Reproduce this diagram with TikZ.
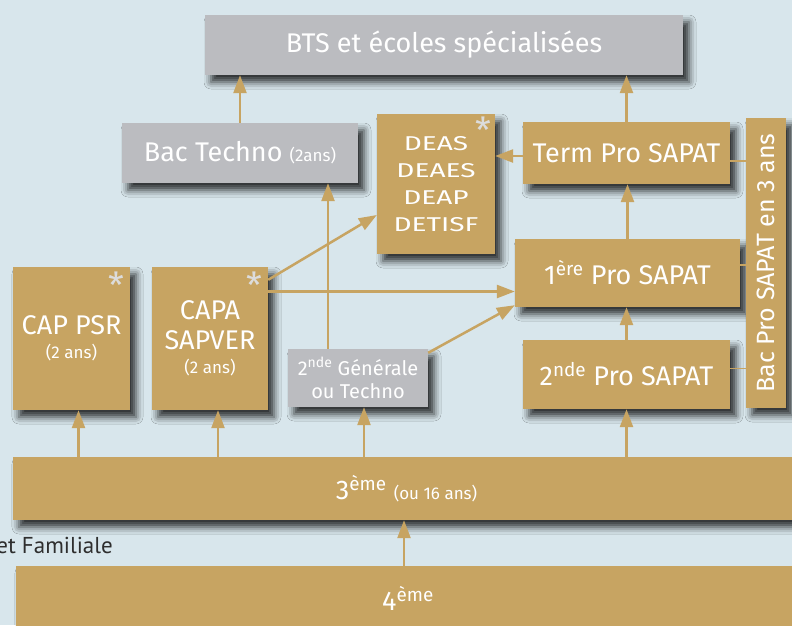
\documentclass[tikz,border=0pt]{standalone}
\usepackage{fontspec}
\usepackage{graphicx}
\setmainfont{Fira Sans}
\newfontfamily\notefont{PT Sans}
\usetikzlibrary{arrows.meta,shadows.blur}

\definecolor{fond}{HTML}{D8E6EC}
\definecolor{dore}{HTML}{C7A462}
\definecolor{gris}{HTML}{BBBCC0}
\definecolor{etoilegris}{HTML}{DCDCDC}
\definecolor{texte}{HTML}{2E2E2E}

\newcommand{\grand}{\fontsize{27}{30}\selectfont}
\newcommand{\moyen}{\fontsize{20}{27}\selectfont}
\newcommand{\petit}{\fontsize{17}{20}\selectfont}
\newcommand{\etire}[1]{\scalebox{1.4}[1]{#1}}

\tikzset{
	boite/.style={rectangle, inner sep=0pt, align=center, text=white, font=\grand,
		blur shadow={shadow xshift=6pt, shadow yshift=-7pt, shadow blur radius=7pt, shadow opacity=80}},
	doree/.style={boite, fill=dore},
	grise/.style={boite, fill=gris},
	fleche/.style={draw=dore, line width=2.5pt, -{Triangle[length=18pt,width=13pt]}},
	lien/.style={draw=dore, line width=1.5pt},
	asterisque/.style={text=etoilegris, font=\fontsize{36}{36}\selectfont, inner sep=0pt, anchor=north east},
}

\begin{document}
\begin{tikzpicture}[x=1pt, y=-1pt]
	\fill[fond] (0,0) rectangle (792,625);
	\useasboundingbox (0,0) rectangle (792,625);

	% boites du haut
	\node[grise, minimum width=478pt, minimum height=60pt] (bts) at (444, 45) {BTS et écoles spécialisées};
	\node[grise, minimum width=236pt, minimum height=60pt] (bactechno) at (240, 153) {Bac Techno {\petit (2ans)}};
	\node[doree, font=\moyen, minimum width=118pt, minimum height=140pt] (deas) at (436, 184) {\etire{DEAS}\\\etire{DEAES}\\\etire{DEAP}\\\etire{DETISF}};
	\node[doree, minimum width=207pt, minimum height=62pt] (termpro) at (626.5, 153) {Term Pro SAPAT};
	\node[doree, minimum width=225pt, minimum height=68pt] (premiere) at (627.5, 273) {1\textsuperscript{ère} Pro SAPAT};
	\node[doree, minimum width=207pt, minimum height=69pt] (secondepro) at (626.5, 374.5) {2\textsuperscript{nde} Pro SAPAT};
	\node[doree, font=\fontsize{25}{28}\selectfont, rotate=90, minimum width=290pt, minimum height=40pt] (bacpro) at (766, 263) {Bac Pro SAPAT en 3 ans};

	% boites du milieu
	\node[doree, minimum width=117pt, minimum height=143pt] (cappsr) at (71.5, 338.5) {CAP PSR\\[-6pt]{\petit (2 ans)}};
	\node[doree, minimum width=116pt, minimum height=143pt] (capa) at (210, 338.5) {CAPA\\SAPVER\\[-6pt]{\petit (2 ans)}};
	\node[grise, font=\fontsize{20}{23}\selectfont, minimum width=140pt, minimum height=58pt] (secondeg) at (358, 378) {2\textsuperscript{nde} Générale\\ou Techno};

	% barres du bas
	\node[doree, minimum width=787pt, minimum height=63pt] (troisieme) at (406.5, 488.5) {3\textsuperscript{ème} {\petit (ou 16 ans)}};
	\node[doree, minimum width=784pt, minimum height=64pt] (quatrieme) at (408, 598) {4\textsuperscript{ème}};
	\node[anchor=base east, inner sep=0pt, text=texte, font=\notefont\fontsize{23}{23}\selectfont] (famille) at (113, 553) {et Familiale};

	% asterisques
	\node[asterisque] (ast1) at ([xshift=-6pt, yshift=-5pt]cappsr.north east) {*};
	\node[asterisque] (ast2) at ([xshift=-6pt, yshift=-5pt]capa.north east) {*};
	\node[asterisque] (ast3) at ([xshift=-4pt, yshift=-3pt]deas.north east) {*};

	% liaisons avec le bac pro
	\draw[lien] ([yshift=-8pt]termpro.east) -- ([yshift=-8pt]termpro.east -| bacpro.north);
	\draw[lien] ([yshift=8pt]premiere.east) -- ([yshift=8pt]premiere.east -| bacpro.north);
	\draw[lien] ([yshift=6pt]secondepro.east) -- ([yshift=6pt]secondepro.east -| bacpro.north);

	% fleches
	\coordinate (sgtop) at ([xshift=-30pt]secondeg.north);
	\draw[fleche] (bactechno.north) -- (bactechno.north |- bts.south);
	\draw[fleche] (termpro.north) -- (termpro.north |- bts.south);
	\draw[fleche] ([yshift=-3pt]termpro.west) -- ([yshift=-3pt]termpro.west -| deas.east);
	\draw[fleche] (premiere.north) -- (premiere.north |- termpro.south);
	\draw[fleche] (secondepro.north) -- (secondepro.north |- premiere.south);
	\draw[fleche] (sgtop) -- (sgtop |- bactechno.south);
	\draw[fleche] ([yshift=-13pt]capa.north east) -- ([yshift=-31pt]deas.west);
	\draw[fleche] ([yshift=47pt]capa.east) -- ([yshift=47pt]capa.east -| premiere.west);
	\draw[fleche] ([yshift=-4pt]secondeg.north east) -- ([yshift=2pt]premiere.south west);
	\draw[fleche] ([xshift=7pt]cappsr.south |- troisieme.north) -- ([xshift=7pt]cappsr.south);
	\draw[fleche] ([xshift=8pt]capa.south |- troisieme.north) -- ([xshift=8pt]capa.south);
	\draw[fleche] ([xshift=6pt]secondeg.south |- troisieme.north) -- ([xshift=6pt]secondeg.south);
	\draw[fleche] (secondepro.south |- troisieme.north) -- (secondepro.south);
	\draw[fleche] ([xshift=-4pt]quatrieme.north) -- ([xshift=-4pt]quatrieme.north |- troisieme.south);
\end{tikzpicture}
\end{document}
